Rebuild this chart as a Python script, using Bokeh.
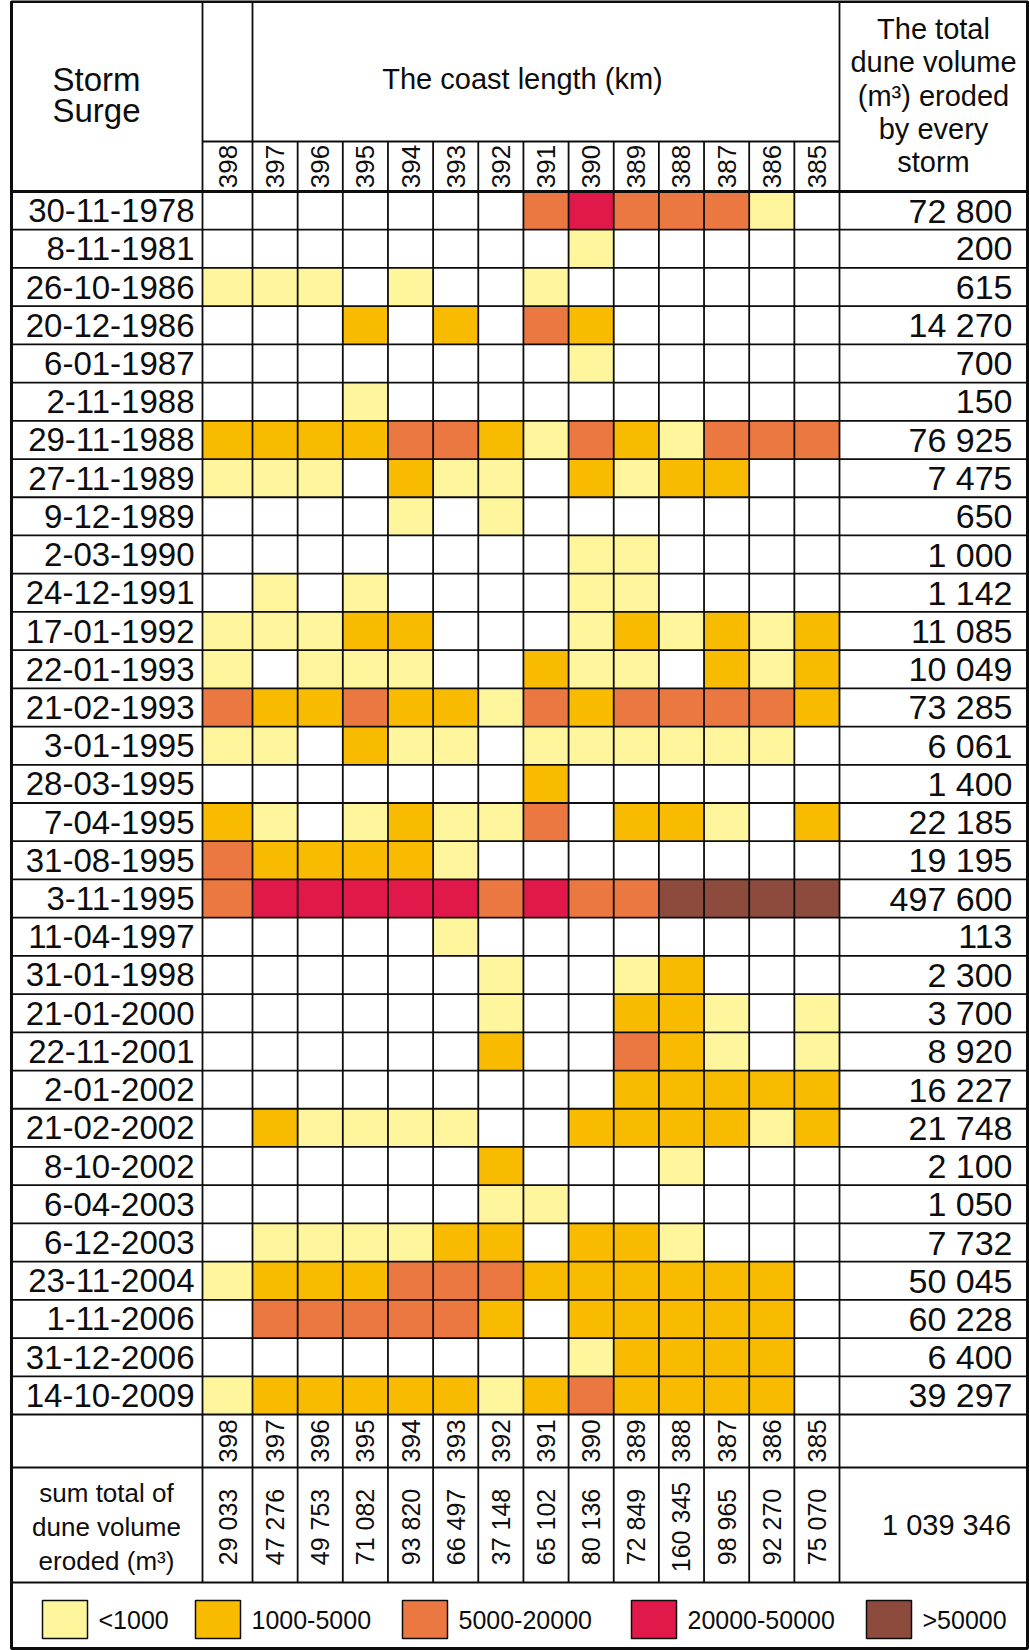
import math
from bokeh.plotting import figure
from bokeh.models import Range1d, ColumnDataSource
from bokeh.embed import file_html
from bokeh.resources import INLINE
from bokeh.core.properties import value

# ---------------- data ----------------
coast_km = ["398", "397", "396", "395", "394", "393", "392",
            "391", "390", "389", "388", "387", "386", "385"]

storm_dates = ["30-11-1978", "8-11-1981", "26-10-1986", "20-12-1986", "6-01-1987",
               "2-11-1988", "29-11-1988", "27-11-1989", "9-12-1989", "2-03-1990",
               "24-12-1991", "17-01-1992", "22-01-1993", "21-02-1993", "3-01-1995",
               "28-03-1995", "7-04-1995", "31-08-1995", "3-11-1995", "11-04-1997",
               "31-01-1998", "21-01-2000", "22-11-2001", "2-01-2002", "21-02-2002",
               "8-10-2002", "6-04-2003", "6-12-2003", "23-11-2004", "1-11-2006",
               "31-12-2006", "14-10-2009"]

storm_totals = ["72 800", "200", "615", "14 270", "700", "150", "76 925", "7 475",
                "650", "1 000", "1 142", "11 085", "10 049", "73 285", "6 061",
                "1 400", "22 185", "19 195", "497 600", "113", "2 300", "3 700",
                "8 920", "16 227", "21 748", "2 100", "1 050", "7 732", "50 045",
                "60 228", "6 400", "39 297"]

km_totals = ["29 033", "47 276", "49 753", "71 082", "93 820", "66 497", "37 148",
             "65 102", "80 136", "72 849", "160 345", "98 965", "92 270", "75 070"]

grand_total = "1 039 346"

class_labels = ["<1000", "1000-5000", "5000-20000", "20000-50000", ">50000"]
class_colors = ["#FFF59D", "#F8BB00", "#EC7841", "#E1194B", "#8C4B3C"]

# erosion class per storm (row) and km (column): 0 none, 1..5 legend classes
erosion_class = [
    [0, 0, 0, 0, 0, 0, 0, 3, 4, 3, 3, 3, 1, 0],
    [0, 0, 0, 0, 0, 0, 0, 0, 1, 0, 0, 0, 0, 0],
    [1, 1, 1, 0, 1, 0, 0, 1, 0, 0, 0, 0, 0, 0],
    [0, 0, 0, 2, 0, 2, 0, 3, 2, 0, 0, 0, 0, 0],
    [0, 0, 0, 0, 0, 0, 0, 0, 1, 0, 0, 0, 0, 0],
    [0, 0, 0, 1, 0, 0, 0, 0, 0, 0, 0, 0, 0, 0],
    [2, 2, 2, 2, 3, 3, 2, 1, 3, 2, 1, 3, 3, 3],
    [1, 1, 1, 0, 2, 1, 1, 0, 2, 1, 2, 2, 0, 0],
    [0, 0, 0, 0, 1, 0, 1, 0, 0, 0, 0, 0, 0, 0],
    [0, 0, 0, 0, 0, 0, 0, 0, 1, 1, 0, 0, 0, 0],
    [0, 1, 0, 1, 0, 0, 0, 0, 1, 1, 0, 0, 0, 0],
    [1, 1, 1, 2, 2, 0, 0, 0, 1, 2, 1, 2, 1, 2],
    [1, 0, 1, 1, 1, 0, 0, 2, 1, 1, 0, 2, 1, 2],
    [3, 2, 2, 3, 2, 2, 1, 3, 2, 3, 3, 3, 3, 2],
    [1, 1, 0, 2, 1, 1, 0, 1, 1, 1, 1, 1, 1, 0],
    [0, 0, 0, 0, 0, 0, 0, 2, 0, 0, 0, 0, 0, 0],
    [2, 1, 0, 1, 2, 1, 1, 3, 0, 2, 2, 1, 0, 2],
    [3, 2, 2, 2, 2, 1, 0, 0, 0, 0, 0, 0, 0, 0],
    [3, 4, 4, 4, 4, 4, 3, 4, 3, 3, 5, 5, 5, 5],
    [0, 0, 0, 0, 0, 1, 0, 0, 0, 0, 0, 0, 0, 0],
    [0, 0, 0, 0, 0, 0, 1, 0, 0, 1, 2, 0, 0, 0],
    [0, 0, 0, 0, 0, 0, 1, 0, 0, 2, 2, 1, 0, 1],
    [0, 0, 0, 0, 0, 0, 2, 0, 0, 3, 2, 1, 0, 1],
    [0, 0, 0, 0, 0, 0, 0, 0, 0, 2, 2, 2, 2, 2],
    [0, 2, 1, 1, 1, 1, 0, 0, 2, 2, 2, 2, 1, 2],
    [0, 0, 0, 0, 0, 0, 2, 0, 0, 0, 1, 0, 0, 0],
    [0, 0, 0, 0, 0, 0, 1, 1, 0, 0, 0, 0, 0, 0],
    [0, 1, 1, 1, 1, 2, 2, 0, 2, 2, 1, 0, 0, 0],
    [1, 2, 2, 2, 3, 3, 3, 2, 2, 2, 2, 2, 2, 0],
    [0, 3, 3, 3, 3, 3, 2, 0, 2, 2, 2, 2, 2, 0],
    [0, 0, 0, 0, 0, 0, 0, 0, 1, 2, 2, 2, 2, 0],
    [1, 2, 2, 2, 2, 2, 1, 2, 3, 2, 2, 2, 2, 0],
]

# ---------------- layout (page pixels) ----------------
W, H = 1029, 1650
X_L, X_R = 11, 1027
X_DATE, X_FIRST, X_TOT = 202, 252, 839
Y_T, Y_SUB, Y_HEAD = 1, 141, 191
Y_DATA, Y_KM, Y_SUM, Y_B = 1414, 1467, 1582, 1648
n_rows = len(storm_dates)
n_cols = len(coast_km)
row_h = (Y_DATA - Y_HEAD) / n_rows
col_w = (X_TOT - X_FIRST) / (n_cols - 1)
edges = [X_DATE] + [X_FIRST + i * col_w for i in range(n_cols)]
col_mid = [(edges[i] + edges[i + 1]) / 2 for i in range(n_cols)]
row_top = [Y_HEAD + r * row_h for r in range(n_rows)]
row_mid = [t + row_h / 2 for t in row_top]

FONT = value("Liberation Sans")
INK = "#0d0d0d"

p = figure(width=W, height=H, x_range=Range1d(0, W), y_range=Range1d(H, 0),
           output_backend="svg", toolbar_location=None, min_border=0,
           x_axis_type=None, y_axis_type=None)
p.grid.visible = False
p.outline_line_color = None
p.background_fill_color = "white"
p.border_fill_color = "white"

# ---------------- cells ----------------
cl, cr, ct, cb, cc = [], [], [], [], []
for r, row in enumerate(erosion_class):
    for c, k in enumerate(row):
        if k > 0:
            cl.append(edges[c]); cr.append(edges[c + 1])
            ct.append(row_top[r]); cb.append(row_top[r] + row_h)
            cc.append(class_colors[k - 1])
p.quad(left=cl, right=cr, top=ct, bottom=cb, fill_color=cc, line_color=None)

# ---------------- grid lines ----------------
x0, y0, x1, y1 = [], [], [], []
for r in range(1, n_rows):
    y = row_top[r]
    x0.append(X_L); x1.append(X_R); y0.append(y); y1.append(y)
for y in [Y_DATA, Y_KM, Y_SUM]:
    x0.append(X_L); x1.append(X_R); y0.append(y); y1.append(y)
x0.append(X_DATE); x1.append(X_TOT); y0.append(Y_SUB); y1.append(Y_SUB)
for x in [X_DATE, X_FIRST, X_TOT]:
    x0.append(x); x1.append(x); y0.append(Y_T); y1.append(Y_SUM)
for x in edges[2:-1]:
    x0.append(x); x1.append(x); y0.append(Y_SUB); y1.append(Y_SUM)
p.segment(x0=x0, y0=y0, x1=x1, y1=y1, line_color=INK, line_width=1.8)
p.segment(x0=[X_L], y0=[Y_HEAD], x1=[X_R], y1=[Y_HEAD], line_color=INK, line_width=2.8)
p.quad(left=[X_L], right=[X_R], top=[Y_T], bottom=[Y_B], fill_color=None,
       line_color=INK, line_width=3)


def txt(xs, ys, texts, size, align="center", angle=0.0):
    src = ColumnDataSource(dict(x=xs, y=ys, t=texts))
    p.text(x="x", y="y", text="t", source=src, text_font=FONT,
           text_font_size=f"{size}px", text_align=align,
           text_baseline="middle", angle=angle, text_color=INK)


# ---------------- header ----------------
txt([96, 96], [79, 110], ["Storm", "Surge"], 33)
txt([522], [78], ["The coast length (km)"], 29)
txt([933] * 5, [28, 61, 95, 128, 161],
    ["The total", "dune volume", "(m³) eroded", "by every", "storm"], 29)
txt(col_mid, [(Y_SUB + Y_HEAD) / 2] * n_cols, coast_km, 26, angle=math.pi / 2)

# ---------------- rows ----------------
txt([194] * n_rows, row_mid, storm_dates, 33, align="right")
txt([1012] * n_rows, row_mid, storm_totals, 34, align="right")

# ---------------- bottom ----------------
txt(col_mid, [(Y_DATA + Y_KM) / 2] * n_cols, coast_km, 26, angle=math.pi / 2)
txt(col_mid, [(Y_KM + Y_SUM) / 2 + 2] * n_cols, km_totals, 25, angle=math.pi / 2)
txt([106] * 3, [1492, 1526, 1560], ["sum total of", "dune volume", "eroded (m³)"], 26)
txt([946], [(Y_KM + Y_SUM) / 2], [grand_total], 29)

# ---------------- legend ----------------
leg_x = [42, 195, 402, 631, 866]
box_w, box_top, box_bot = 45, 1600, 1638
p.quad(left=leg_x, right=[x + box_w for x in leg_x], top=[box_top] * 5,
       bottom=[box_bot] * 5, fill_color=class_colors, line_color=INK, line_width=1.5)
txt([x + box_w + 11 for x in leg_x], [(box_top + box_bot) / 2] * 5, class_labels, 25, align="left")

open("out.html", "w").write(file_html(p, INLINE))
